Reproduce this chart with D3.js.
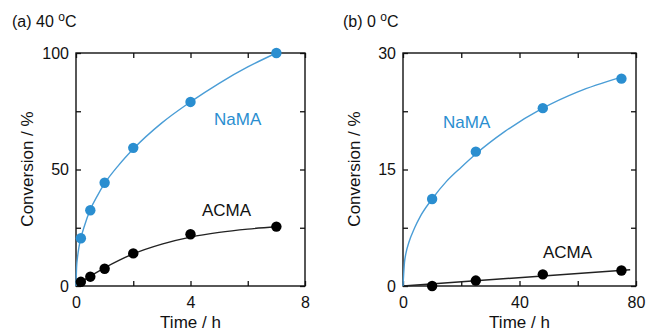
<!DOCTYPE html>
<html>
<head>
<meta charset="utf-8">
<script src="https://cdn.jsdelivr.net/npm/d3@7"></script>
<style>
  body { margin:0; background:#fff; }
  svg { font-family:"Liberation Sans", Arial, sans-serif; }
  .domain { display:none; }
</style>
</head>
<body>
<script>
// panel (a) 40 C : measured points
var timeA = [0.17, 0.5, 1, 2, 4, 7];
var namaA = [20.5, 32.5, 44.3, 59.3, 79, 100];
var acmaA = [1.8, 4, 7.4, 14, 22.2, 25.5];
// fitted curves (a)
var fitTimeA = [0, 0.02, 0.05, 0.1, 0.17, 0.3, 0.5, 0.75, 1, 1.5, 2, 3, 4, 5, 6, 7];
var fitNamaA = [0, 8, 12, 16.5, 20.5, 26, 32.8, 38.8, 44, 52, 58.8, 70, 79, 87, 94, 100];
var fitAcmaTimeA = [0, 0.5, 1, 1.5, 2, 3, 4, 5, 6, 7];
var fitAcmaA = [0, 4.2, 7.8, 11, 13.8, 18, 21, 23, 24.4, 25.4];

// panel (b) 0 C : measured points
var timeB = [10, 25, 48, 75];
var namaB = [11.2, 17.3, 22.9, 26.7];
var acmaB = [0, 0.7, 1.5, 2.0];
var fitTimeB = [0, 0.5, 1, 2, 4, 6, 10, 15, 20, 25, 35, 48, 60, 75];
var fitNamaB = [0, 3, 4.2, 5.6, 7.5, 9, 11.2, 13.5, 15.3, 17, 19.9, 22.9, 25, 26.9];
var fitAcmaTimeB = [0, 78];
var fitAcmaB = [0, 2.1];

var blue = "#2a8ed0", blueLine = "#4a9dd6";

var svg = d3.select("body").append("svg").attr("width",648).attr("height",333);

function panel(o){
  var x = d3.scaleLinear().domain(o.xDomain).range([o.left, o.right]);
  var y = d3.scaleLinear().domain(o.yDomain).range([286, 53]);
  var g = svg.append("g");

  // inward ticks on all four sides
  g.append("g").attr("transform","translate(0,286)")
    .call(d3.axisBottom(x).tickValues(o.xTicks).tickSize(-5).tickPadding(11)
      .tickFormat(function(d){ return o.xLabels.indexOf(d) >= 0 ? d : ""; }));
  g.append("g").attr("transform","translate(0,53)")
    .call(d3.axisTop(x).tickValues(o.xTicks).tickSize(-5).tickFormat(""));
  g.append("g").attr("transform","translate("+o.left+",0)")
    .call(d3.axisLeft(y).tickValues(o.yTicks).tickSize(-5).tickPadding(7)
      .tickFormat(function(d){ return o.yLabels.indexOf(d) >= 0 ? d : ""; }));
  g.append("g").attr("transform","translate("+o.right+",0)")
    .call(d3.axisRight(y).tickValues(o.yTicks).tickSize(-5).tickFormat(""));
  g.selectAll(".tick line").attr("stroke","#111").attr("stroke-width",1.3);
  g.selectAll(".tick text").attr("font-size",16).attr("fill","#111").attr("font-family","Liberation Sans, Arial, sans-serif");

  g.append("rect").attr("x",o.left).attr("y",53).attr("width",o.right-o.left).attr("height",233)
    .attr("fill","none").attr("stroke","#111").attr("stroke-width",1.4);

  var line = d3.line().x(function(d){ return x(d[0]); }).y(function(d){ return y(d[1]); }).curve(d3.curveMonotoneX);

  g.append("path").datum(d3.zip(o.fitAcmaT, o.fitAcma)).attr("d",line)
    .attr("fill","none").attr("stroke","#222").attr("stroke-width",1.4);
  g.append("path").datum(d3.zip(o.fitNamaT, o.fitNama)).attr("d",line)
    .attr("fill","none").attr("stroke",blueLine).attr("stroke-width",1.4);

  g.selectAll("circle.nama").data(d3.zip(o.t, o.nama)).enter().append("circle")
    .attr("class","nama").attr("cx",function(d){ return x(d[0]); }).attr("cy",function(d){ return y(d[1]); })
    .attr("r",5.2).attr("fill",blue);
  g.selectAll("circle.acma").data(d3.zip(o.t, o.acma)).enter().append("circle")
    .attr("class","acma").attr("cx",function(d){ return x(d[0]); }).attr("cy",function(d){ return y(d[1]); })
    .attr("r",5.2).attr("fill","#000");

  g.append("text").attr("x",o.namaPos[0]).attr("y",o.namaPos[1]).attr("font-size",17).attr("fill",blue).text("NaMA");
  g.append("text").attr("x",o.acmaPos[0]).attr("y",o.acmaPos[1]).attr("font-size",17).attr("fill","#111").text("ACMA");

  g.append("text").attr("transform","translate("+(o.left-43)+",169) rotate(-90)")
    .attr("text-anchor","middle").attr("font-size",17).attr("fill","#111").text("Conversion / %");
  g.append("text").attr("x",(o.left+o.right)/2).attr("y",328)
    .attr("text-anchor","middle").attr("font-size",17).attr("fill","#111").text("Time / h");

  var t = g.append("text").attr("x",o.titleX).attr("y",27).attr("font-size",16).attr("fill","#111");
  t.append("tspan").text(o.title + " ");
  t.append("tspan").attr("font-size",12).attr("dy",-6).text("o");
  t.append("tspan").attr("dy",6).text("C");
}

panel({
  left:76, right:305, xDomain:[0,8], yDomain:[0,100],
  xTicks:[0,2,4,6,8], xLabels:[0,4,8], yTicks:[0,25,50,75,100], yLabels:[0,50,100],
  t:timeA, nama:namaA, acma:acmaA,
  fitNamaT:fitTimeA, fitNama:fitNamaA, fitAcmaT:fitAcmaTimeA, fitAcma:fitAcmaA,
  namaPos:[214,125], acmaPos:[202,216], titleX:12, title:"(a) 40"
});
panel({
  left:403, right:636, xDomain:[0,80], yDomain:[0,30],
  xTicks:[0,20,40,60,80], xLabels:[0,40,80], yTicks:[0,7.5,15,22.5,30], yLabels:[0,15,30],
  t:timeB, nama:namaB, acma:acmaB,
  fitNamaT:fitTimeB, fitNama:fitNamaB, fitAcmaT:fitAcmaTimeB, fitAcma:fitAcmaB,
  namaPos:[443,128], acmaPos:[543,258], titleX:343, title:"(b) 0"
});
</script>
</body>
</html>
